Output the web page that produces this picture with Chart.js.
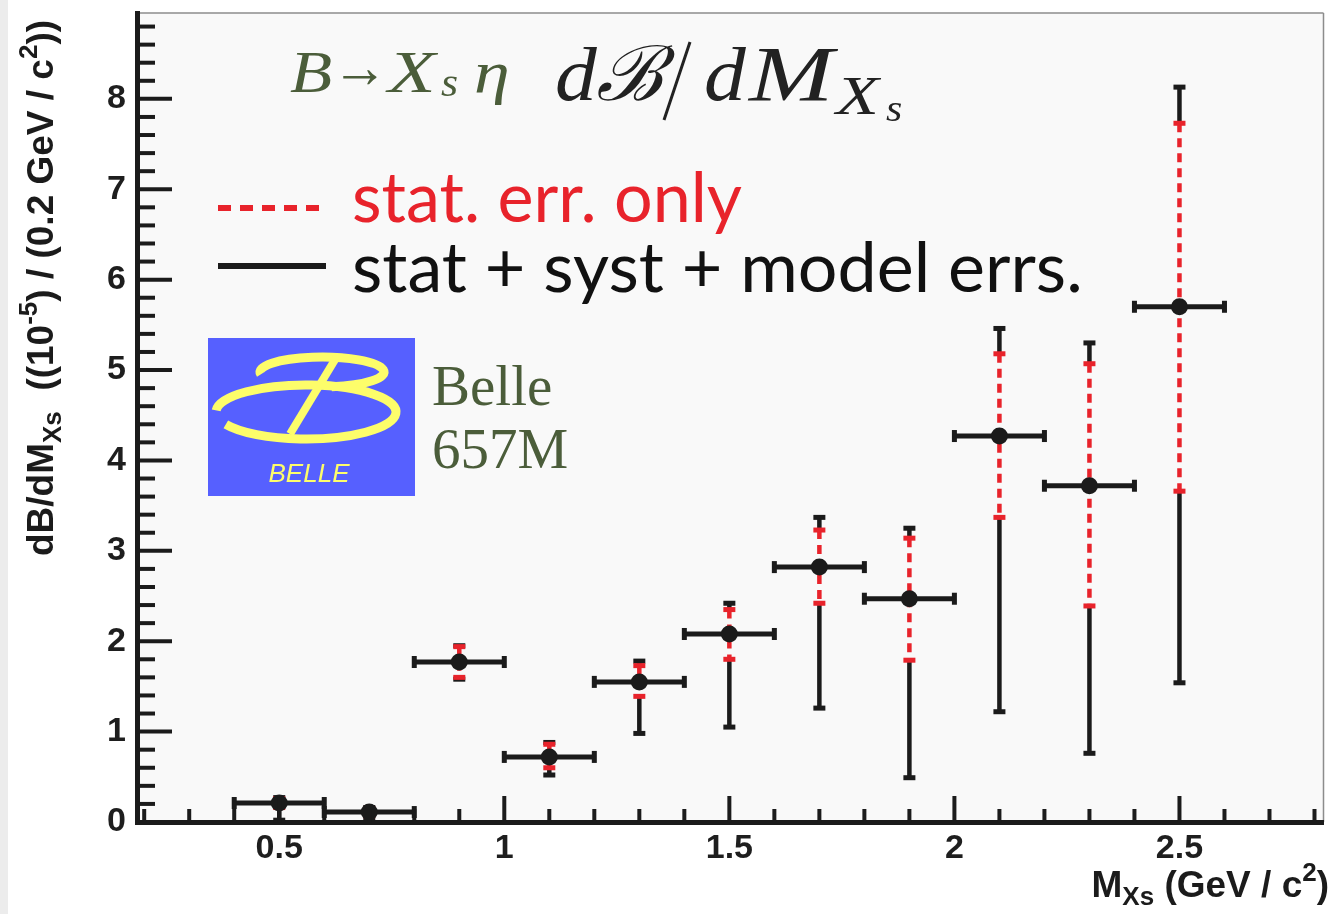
<!DOCTYPE html>
<html>
<head>
<meta charset="utf-8">
<script src="https://cdn.jsdelivr.net/npm/chart.js@4.4.1/dist/chart.umd.min.js"></script>
<style>
html, body { margin: 0; padding: 0; background: #fff; }
canvas { display: block; }
</style>
</head>
<body>
<canvas id="ChartA" width="1332" height="914"></canvas>
<script>
// B -> Xs eta, dB/dM(Xs) in 0.2 GeV bins
var binCentres   = [0.5, 0.7, 0.9, 1.1, 1.3, 1.5, 1.7, 1.9, 2.1, 2.3, 2.5];
var binHalfWidth = [0.1, 0.1, 0.1, 0.1, 0.1, 0.1, 0.1, 0.1, 0.1, 0.1, 0.1];
var dBdM         = [0.21, 0.11, 1.77, 0.72, 1.55, 2.08, 2.82, 2.47, 4.27, 3.72, 5.70];
// stat. errors only (lower / upper edge)
var statLow      = [0.16, 0.07, 1.60, 0.60, 1.39, 1.80, 2.42, 1.79, 3.37, 2.39, 3.66];
var statHigh     = [0.26, 0.15, 1.94, 0.86, 1.73, 2.35, 3.23, 3.14, 5.18, 5.07, 7.73];
// stat + syst + model errors
var totLow       = [0.02, 0.05, 1.58, 0.52, 0.98, 1.05, 1.26, 0.49, 1.22, 0.76, 1.54];
var totHigh      = [0.27, 0.16, 1.95, 0.88, 1.78, 2.42, 3.37, 3.25, 5.46, 5.30, 8.13];

var xTickLabels = [0.5, 1, 1.5, 2, 2.5];
var yTickLabels = [0, 1, 2, 3, 4, 5, 6, 7, 8];

var BLACK = "#1b1b1b";
var RED = "#e8232b";
var GREEN = "#4b5d3a";
var SANS = "'Liberation Sans', Arial, sans-serif";
var SERIF = "'Liberation Serif', 'Times New Roman', serif";

function seg(ctx, x1, y1, x2, y2)
{
	ctx.beginPath();
	ctx.moveTo(x1, y1);
	ctx.lineTo(x2, y2);
	ctx.stroke();
}

// text with sub/superscripts: parts = [[text, size, shift], ...]
function richText(ctx, parts, x, y, weight, family)
{
	var cx = x;
	parts.forEach(function(p)
	{
		ctx.font = weight + " " + p[1] + "px " + family;
		ctx.fillText(p[0], cx, y + p[2]);
		cx += ctx.measureText(p[0]).width;
	});
	return cx;
}

function richWidth(ctx, parts, weight, family)
{
	var w = 0;
	parts.forEach(function(p)
	{
		ctx.font = weight + " " + p[1] + "px " + family;
		w += ctx.measureText(p[0]).width;
	});
	return w;
}

// one glyph group stretched sideways (the math font is wider than Times)
function wideText(ctx, text, x, y, font, sx)
{
	ctx.save();
	ctx.font = font;
	ctx.translate(x, y);
	ctx.scale(sx, 1);
	ctx.fillText(text, 0, 0);
	ctx.restore();
}

// page and frame behind everything
var framePlugin = {
	id: "frame",
	beforeDraw: function(chart)
	{
		var ctx = chart.ctx, a = chart.chartArea;
		ctx.save();
		ctx.fillStyle = "#fff";
		ctx.fillRect(0, 0, chart.width, chart.height);
		ctx.fillStyle = "#ececec";
		ctx.fillRect(0, 0, 8, chart.height);
		ctx.fillStyle = "#f9f9f9";
		ctx.fillRect(a.left, a.top, a.right - a.left, a.bottom - a.top);
		ctx.strokeStyle = "#8c8c8c";
		ctx.lineWidth = 1.5;
		seg(ctx, a.left, a.top, a.right, a.top);
		seg(ctx, a.right, a.top, a.right, a.bottom);
		ctx.restore();
	}
};

// vertical (stat / total) and horizontal (bin width) error bars
var errorBarPlugin = {
	id: "errorBars",
	beforeDatasetsDraw: function(chart)
	{
		var ctx = chart.ctx, xs = chart.scales.x, ys = chart.scales.y;
		ctx.save();
		for (var i = 0; i < binCentres.length; i++)
		{
			var px = xs.getPixelForValue(binCentres[i]);
			var py = ys.getPixelForValue(dBdM[i]);
			var tHi = ys.getPixelForValue(totHigh[i]), tLo = ys.getPixelForValue(totLow[i]);
			var sHi = ys.getPixelForValue(statHigh[i]), sLo = ys.getPixelForValue(statLow[i]);

			ctx.setLineDash([]);
			ctx.strokeStyle = BLACK;
			ctx.fillStyle = BLACK;
			ctx.lineWidth = 4.5;
			seg(ctx, px, tHi, px, sHi);
			seg(ctx, px, sLo, px, tLo);
			ctx.fillRect(px - 6, tHi - 2.5, 12, 5);
			ctx.fillRect(px - 6, tLo - 2.5, 12, 5);

			ctx.strokeStyle = RED;
			ctx.fillStyle = RED;
			ctx.setLineDash([9, 6]);
			seg(ctx, px, sHi, px, sLo);
			ctx.setLineDash([]);
			ctx.fillRect(px - 6, sHi - 2.5, 12, 5);
			ctx.fillRect(px - 6, sLo - 2.5, 12, 5);

			var xl = xs.getPixelForValue(binCentres[i] - binHalfWidth[i]);
			var xr = xs.getPixelForValue(binCentres[i] + binHalfWidth[i]);
			ctx.strokeStyle = BLACK;
			ctx.fillStyle = BLACK;
			ctx.lineWidth = 5;
			seg(ctx, xl, py, xr, py);
			ctx.fillRect(xl - 2.5, py - 6, 5, 12);
			ctx.fillRect(xr - 2.5, py - 6, 5, 12);
		}
		ctx.restore();
	}
};

// inside tick marks, axis titles, labels and the Belle logo
var decorPlugin = {
	id: "decor",
	afterDraw: function(chart)
	{
		var ctx = chart.ctx, a = chart.chartArea, xs = chart.scales.x, ys = chart.scales.y;
		ctx.save();
		ctx.strokeStyle = BLACK;
		ctx.lineWidth = 4;
		for (var k = 0; k <= 44; k++)
		{
			var y = ys.getPixelForValue(k * 0.2);
			seg(ctx, a.left, y, a.left + (k % 5 === 0 ? 35 : 18), y);
		}
		for (var j = 2; j <= 28; j++)
		{
			var x = xs.getPixelForValue(j / 10);
			seg(ctx, x, a.bottom, x, a.bottom - (j % 5 === 0 ? 26 : 13));
		}

		// y title
		ctx.fillStyle = BLACK;
		ctx.textBaseline = "alphabetic";
		ctx.textAlign = "left";
		ctx.save();
		ctx.translate(53, 556);
		ctx.rotate(-Math.PI / 2);
		richText(ctx, [["dB/dM", 37, 0], ["Xs", 26, 8], ["  ((10", 37, 0], ["-5", 26, -16],
			[") / (0.2 GeV / c", 37, 0], ["2", 26, -16], ["))", 37, 0]], 0, 0, "bold", SANS);
		ctx.restore();

		// x title
		var parts = [["M", 37, 0], ["Xs", 26, 8], [" (GeV / c", 37, 0], ["2", 26, -16], [")", 37, 0]];
		richText(ctx, parts, 1329 - richWidth(ctx, parts, "bold", SANS), 897, "bold", SANS);

		// title: B -> Xs eta
		ctx.fillStyle = GREEN;
		wideText(ctx, "B", 290, 92, "italic 60px " + SERIF, 1.15);
		ctx.font = "60px " + SERIF;
		wideText(ctx, "\u2192", 332, 87, "60px " + SERIF, 56 / ctx.measureText("\u2192").width);
		wideText(ctx, "X", 388, 92, "italic 60px " + SERIF, 1.3);
		wideText(ctx, "s", 441, 96, "italic 40px " + SERIF, 1.1);
		wideText(ctx, "\u03b7", 474, 92, "italic 60px " + SERIF, 1.2);

		// dB/dM(Xs)
		ctx.fillStyle = "#222";
		wideText(ctx, "d", 555, 100, "italic 76px " + SERIF, 1.1);
		wideText(ctx, "\u212C", 596, 100, "italic 76px " + SERIF, 1.05);
		ctx.strokeStyle = "#222";
		ctx.lineWidth = 3;
		seg(ctx, 690, 42, 664, 120);
		wideText(ctx, "d", 704, 100, "italic 76px " + SERIF, 1.1);
		wideText(ctx, "M", 749, 100, "italic 78px " + SERIF, 1.3);
		wideText(ctx, "X", 836, 114, "italic 54px " + SERIF, 1.3);
		wideText(ctx, "s", 886, 121, "italic 38px " + SERIF, 1.1);

		// legend
		ctx.lineWidth = 6;
		ctx.strokeStyle = RED;
		ctx.setLineDash([13, 9]);
		seg(ctx, 218, 208, 326, 208);
		ctx.setLineDash([]);
		ctx.lineWidth = 6;
		ctx.strokeStyle = BLACK;
		seg(ctx, 218, 266, 326, 266);
		ctx.font = "70px Lato, 'Open Sans', sans-serif";
		ctx.fillStyle = RED;
		ctx.fillText("stat. err. only", 352, 222, 390);
		ctx.fillStyle = "#111";
		ctx.fillText("stat + syst + model errs.", 352, 292, 760);

		// Belle logo
		ctx.fillStyle = "#5660ff";
		ctx.fillRect(208, 338, 207, 158);
		ctx.strokeStyle = "#fdfd6a";
		ctx.fillStyle = "#fdfd6a";
		ctx.lineWidth = 9;
		ctx.beginPath();
		ctx.ellipse(322, 372, 62, 15, 0, Math.PI * 0.95, Math.PI * 2.45);
		ctx.stroke();
		ctx.beginPath();
		ctx.ellipse(306, 412, 90, 27, 0, Math.PI * 1.02, Math.PI * 2.85);
		ctx.stroke();
		ctx.lineWidth = 8;
		seg(ctx, 336, 358, 290, 434);
		ctx.font = "italic 26px " + SANS;
		ctx.textAlign = "center";
		ctx.fillText("BELLE", 309, 482);
		ctx.textAlign = "left";

		ctx.fillStyle = GREEN;
		ctx.font = "57px " + SERIF;
		ctx.fillText("Belle", 432, 405);
		ctx.fillText("657M", 432, 468);
		ctx.restore();
	}
};

var points = binCentres.map(function(x, i) { return {x: x, y: dBdM[i]}; });

new Chart("ChartA",
{
	type: "scatter",
	data:
	{
		datasets: [
		{
			label: "dB/dM",
			data: points,
			pointRadius: 8.5,
			pointHoverRadius: 8.5,
			backgroundColor: BLACK,
			borderWidth: 0
		}]
	},
	options:
	{
		responsive: false,
		animation: false,
		events: [],
		layout: {padding: {top: 13, right: 2, left: 0, bottom: 0}},
		plugins: {legend: {display: false}, tooltip: {enabled: false}},
		scales:
		{
			x:
			{
				type: "linear",
				min: 0.184,
				max: 2.82,
				grid: {display: false, drawTicks: false},
				border: {display: true, color: BLACK, width: 5},
				afterFit: function(s) { s.height = 92; s.paddingLeft = 0; s.paddingRight = 0; },
				afterBuildTicks: function(s) { s.ticks = xTickLabels.map(function(v) { return {value: v}; }); },
				ticks: {
					color: "#1e1e1e",
					padding: 6,
					maxRotation: 0,
					font: {family: SANS, weight: "bold", size: 34},
					callback: function(v) { return String(v); }
				}
			},
			y:
			{
				type: "linear",
				min: 0,
				max: 8.95,
				grid: {display: false, drawTicks: false},
				border: {display: true, color: BLACK, width: 5},
				afterFit: function(s) { s.width = 137; s.paddingTop = 0; s.paddingBottom = 0; },
				afterBuildTicks: function(s) { s.ticks = yTickLabels.map(function(v) { return {value: v}; }); },
				ticks: {
					color: "#1e1e1e",
					padding: 11,
					font: {family: SANS, weight: "bold", size: 34},
					callback: function(v) { return String(v); }
				}
			}
		}
	},
	plugins: [framePlugin, errorBarPlugin, decorPlugin]
});
</script>
</body>
</html>
